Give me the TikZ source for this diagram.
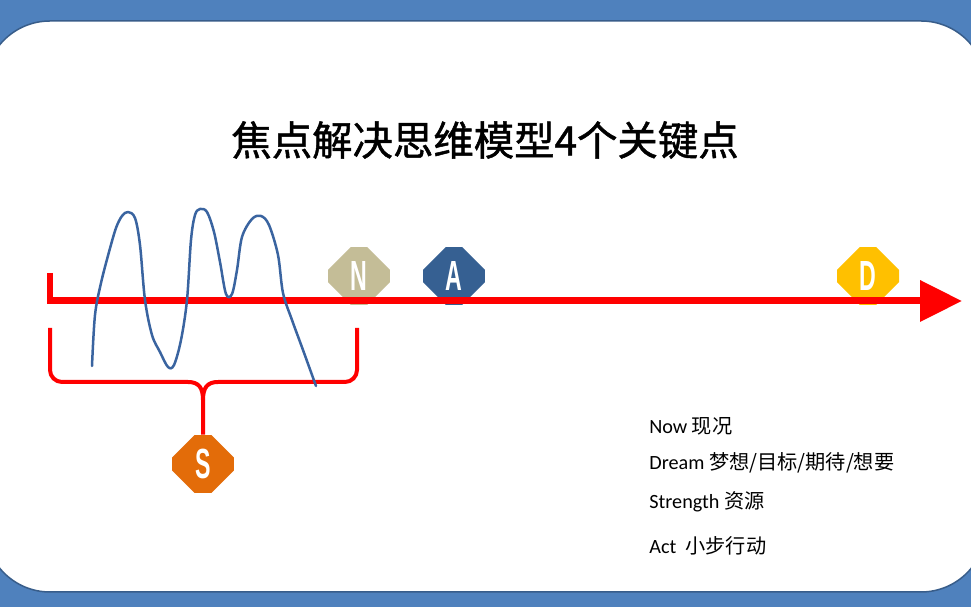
\documentclass[tikz,border=0pt]{standalone}
\usepackage{fontspec}
\usepackage{graphicx}
\setmainfont{Carlito}
\newfontfamily\cjk{Noto Sans CJK SC}
\newfontfamily\cjkt{Noto Sans CJK SC}[FakeBold=1.2]
\newfontfamily\lettfont{Liberation Sans}
\usetikzlibrary{arrows.meta,shapes.misc}
\definecolor{bgblue}{HTML}{4F81BD}
\definecolor{edgeblue}{HTML}{385D8A}
\definecolor{redl}{HTML}{FF0000}
\definecolor{waveblue}{HTML}{3A64A0}
\definecolor{ncol}{HTML}{C4BD97}
\definecolor{acol}{HTML}{366092}
\definecolor{dcol}{HTML}{FFC000}
\definecolor{scol}{HTML}{E36C09}
\tikzset{
  octa/.style={chamfered rectangle, chamfered rectangle xsep=0.36cm, chamfered rectangle ysep=0.36cm,
    minimum width=1.24cm, minimum height=1.16cm, inner sep=0pt, draw=none, fill=#1,
    text=white, font=\lettfont\bfseries\fontsize{24}{24}\selectfont},
  listtext/.style={anchor=west, inner sep=0pt, font=\fontsize{11.5}{13}\selectfont},
  redline/.style={draw=redl, line width=0.14cm},
  bracel/.style={draw=redl, line width=0.08cm},
}
\newcommand{\octlet}[1]{\scalebox{0.55}[1]{#1}}
\begin{document}
\begin{tikzpicture}[x=0.02cm,y=-0.02cm]
\useasboundingbox (0,0) rectangle (971,607);
\fill[bgblue] (0,0) rectangle (971,607);
\filldraw[fill=white, draw=edgeblue, line width=0.03cm, rounded corners=1.3cm] (-15,21) rectangle (986,592);
% title
\node[font=\cjkt\fontsize{23}{23}\selectfont] (title) at (485,140) {焦点解决思维模型4个关键点};
% octagons
\node[octa=ncol] (N) at (359,276) {\octlet{N}};
\node[octa=acol] (A) at (454,276) {\octlet{A}};
\node[octa=dcol] (D) at (868,276) {\octlet{D}};
\node[octa=scol] (S) at (203,464) {\octlet{S}};
% timeline
\coordinate (tick) at (50,273);
\coordinate (tip) at (962,301);
\draw[redline, line join=miter, -{Triangle[length=0.84cm,width=0.8cm]}] (tick) |- (tip);
% brace
\coordinate (bl) at (50,328);
\coordinate (br) at (357,328);
\draw[bracel, rounded corners=0.24cm] (bl) -- (50,382) -- (188,382);
\draw[bracel] (188,382) .. controls (199,382) and (203,388) .. (203,400) -- (S.north);
\draw[bracel, rounded corners=0.24cm] (br) -- (357,382) -- (218,382);
\draw[bracel] (218,382) .. controls (207,382) and (203,388) .. (203,400);
% wave
\draw[waveblue, line width=0.05cm, line cap=round, line join=round]
  plot[smooth, tension=0.55] coordinates {(92,366) (95,315) (101,283) (109,252) (116,228) (122,216) (128,212) (135,218) (140,245) (145,300) (152,335) (160,352) (168,367) (174,365) (181,340) (187,300) (191,240) (195,215) (200,209) (207,212) (214,232) (220,262) (226,294) (232,294) (237,270) (242,237) (252,219) (261,216) (269,225) (278,255) (283,293) (292,320) (303,350) (316,386)};
% list
\node[listtext] (l1) at (649,426) {Now {\cjk 现况}};
\node[listtext] (l2) at (649,463) {Dream {\cjk 梦想/目标/期待/想要}};
\node[listtext] (l3) at (649,502) {Strength {\cjk 资源}};
\node[listtext] (l4) at (649,546) {Act\ \ {\cjk 小步行动}};
\end{tikzpicture}
\end{document}
